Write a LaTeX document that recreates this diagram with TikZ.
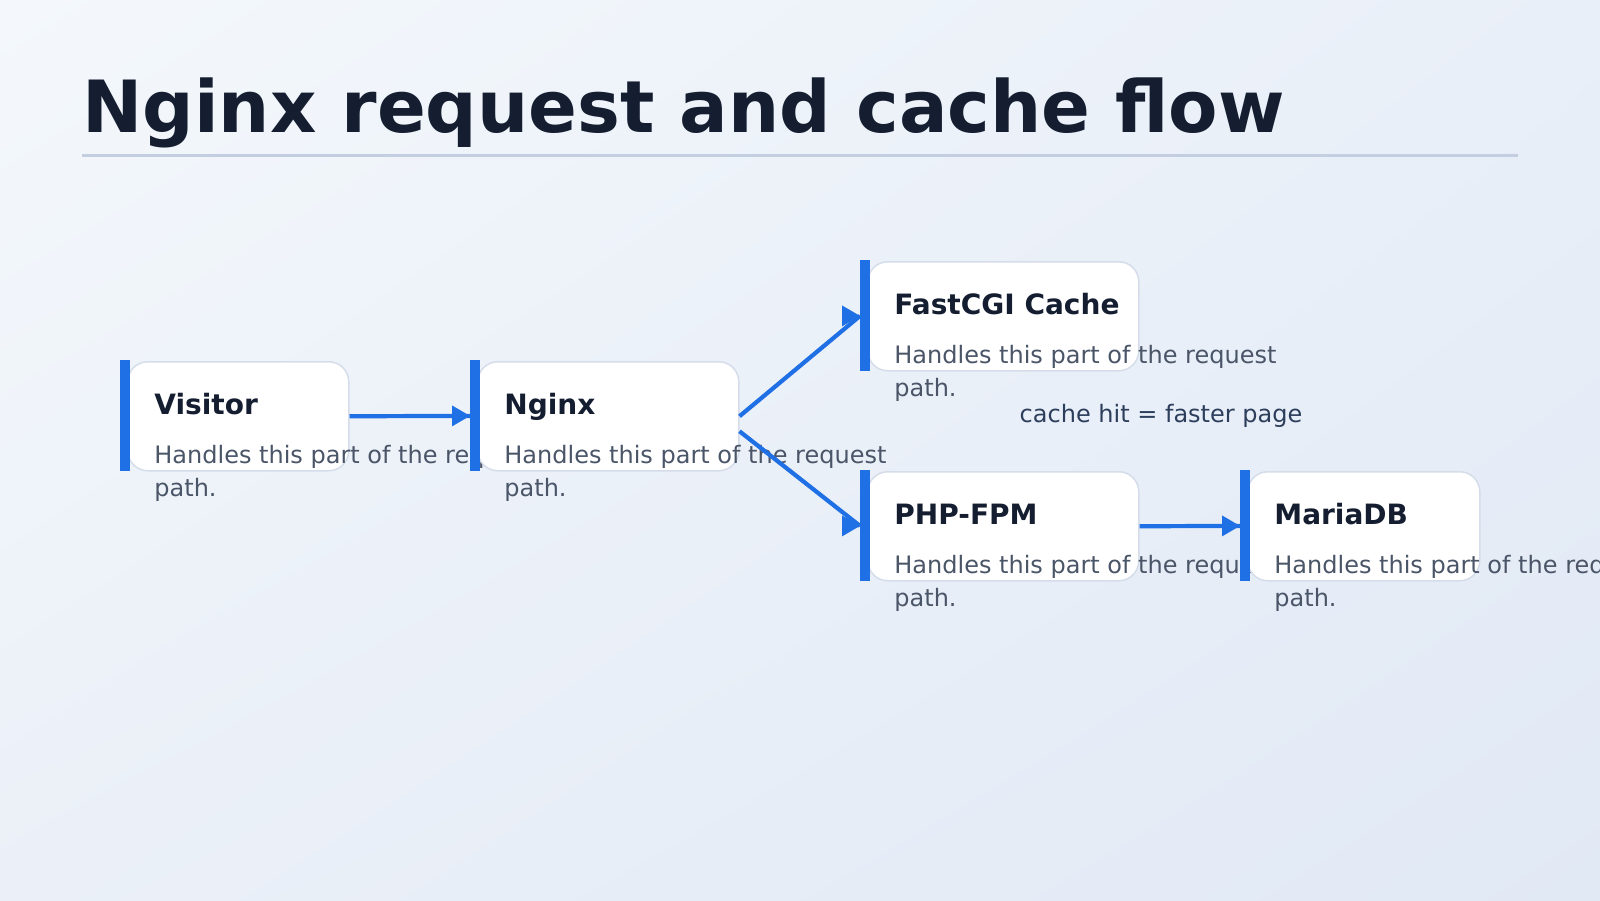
\documentclass[tikz,border=0pt]{standalone}
\usepackage{fontspec}
\setmainfont{DejaVu Sans}
\usetikzlibrary{shadings}
\definecolor{accent}{HTML}{1F6FE5}
\definecolor{titlecol}{HTML}{141E30}
\definecolor{desccol}{HTML}{4A5568}
\definecolor{lblcol}{HTML}{2C3E5C}
\definecolor{cardline}{HTML}{D5DDEA}
\definecolor{divcol}{HTML}{C3CFE0}
\definecolor{bgul}{HTML}{F4F8FC}
\definecolor{bgur}{HTML}{E9EFF8}
\definecolor{bgll}{HTML}{EBF0F8}
\definecolor{bglr}{HTML}{E1E9F5}
\begin{document}
\begin{tikzpicture}[x=0.5pt,y=-0.5pt,
  card/.style={draw=cardline, line width=0.75pt, fill=white, rounded corners=10pt,
    anchor=north west, inner sep=0, minimum height=54.5pt},
  accentbar/.style={fill=accent, anchor=north west, inner sep=0,
    minimum width=5pt, minimum height=55.5pt},
  cardtitle/.style={anchor=base west, inner sep=0, text=titlecol,
    font=\bfseries\fontsize{14pt}{16pt}\selectfont},
  carddesc/.style={anchor=base west, inner sep=0, text=desccol,
    font=\fontsize{12pt}{14pt}\selectfont},
  flow/.style={draw=accent, line width=2.1pt},
  headtip/.style={fill=accent}
]
\useasboundingbox (0,0) rectangle (1600,900);
\shade[upper left=bgul, upper right=bgur, lower left=bgll, lower right=bglr]
  (0,0) rectangle (1600,900);

% title
\node[anchor=base west, inner sep=0, text=titlecol,
  font=\bfseries\fontsize{36pt}{42pt}\selectfont] (title) at (82,132)
  {Nginx request and cache flow};
\coordinate (divl) at (82,155);
\coordinate (divr) at (1518,155);
\draw[divcol, line width=1.5pt] (divl) -- (divr);

% Visitor
\node[card, minimum width=110.5pt] (visitor) at (127,361) {};
\node[accentbar] (visitorbar) at (120,360) {};
\node[cardtitle] (visitort) at (154,414) {Visitor};
\node[carddesc] (visitord1) at (154,463) {Handles this part of the request};
\node[carddesc] (visitord2) at (154,496) {path.};

% Nginx
\node[card, minimum width=130.5pt] (nginx) at (477,361) {};
\node[accentbar] (nginxbar) at (470,360) {};
\node[cardtitle] (nginxt) at (504,414) {Nginx};
\node[carddesc] (nginxd1) at (504,463) {Handles this part of the request};
\node[carddesc] (nginxd2) at (504,496) {path.};

% FastCGI Cache
\node[card, minimum width=135.5pt] (fcgi) at (867,261) {};
\node[accentbar] (fcgibar) at (860,260) {};
\node[cardtitle] (fcgit) at (894,314) {FastCGI Cache};
\node[carddesc] (fcgid1) at (894,363) {Handles this part of the request};
\node[carddesc] (fcgid2) at (894,396) {path.};

% PHP-FPM
\node[card, minimum width=135.5pt] (php) at (867,471) {};
\node[accentbar] (phpbar) at (860,470) {};
\node[cardtitle] (phpt) at (894,524) {PHP-FPM};
\node[carddesc] (phpd1) at (894,573) {Handles this part of the request};
\node[carddesc] (phpd2) at (894,606) {path.};

% MariaDB
\node[card, minimum width=116pt] (maria) at (1247,471) {};
\node[accentbar] (mariabar) at (1240,470) {};
\node[cardtitle] (mariat) at (1274,524) {MariaDB};
\node[carddesc] (mariad1) at (1274,573) {Handles this part of the request};
\node[carddesc] (mariad2) at (1274,606) {path.};

% connectors (arrowheads point horizontally, as in the reference)
\draw[flow] (visitor.east) -- (nginxbar.west);
\fill[headtip] (nginxbar.west) -- ++(-18,-10.5) -- ++(0,21) -- cycle;
\draw[flow] (nginx.east) -- (fcgibar.west);
\fill[headtip] (fcgibar.west) -- ++(-18,-10.5) -- ++(0,21) -- cycle;
\draw[flow] ([yshift=-7.5pt]nginx.east) -- (phpbar.west);
\fill[headtip] (phpbar.west) -- ++(-18,-10.5) -- ++(0,21) -- cycle;
\draw[flow] (php.east) -- (mariabar.west);
\fill[headtip] (mariabar.west) -- ++(-18,-10.5) -- ++(0,21) -- cycle;

\node[anchor=base, inner sep=0, text=lblcol, font=\fontsize{12pt}{14pt}\selectfont]
  (cachelbl) at (1161,422) {cache hit = faster page};
\end{tikzpicture}
\end{document}
